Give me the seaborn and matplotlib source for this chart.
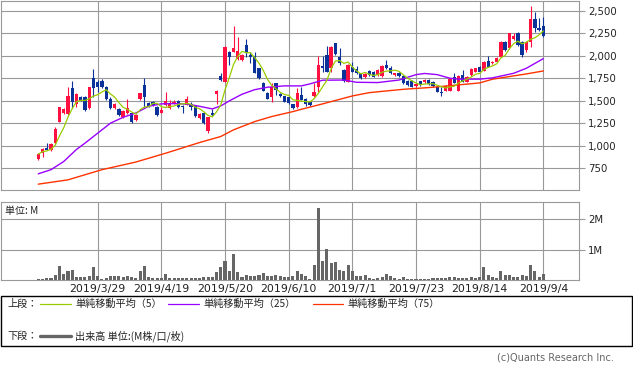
import matplotlib
matplotlib.use("Agg")
import matplotlib.pyplot as plt
from matplotlib.patches import Rectangle
from matplotlib.lines import Line2D
from matplotlib.ticker import FuncFormatter
import seaborn as sns
import pandas as pd
import numpy as np

# ---------------- data ----------------
opens = [852, 918, 978, 956, 1030, 1267, 1363, 1355, 1644, 1467,
         1544, 1541, 1418, 1752, 1711, 1726, 1652, 1522, 1418, 1411,
         1326, 1363, 1363, 1289, 1518, 1678, 1474, 1493, 1430, 1370,
         1455, 1418, 1467, 1504, 1444, 1455, 1467, 1444, 1307, 1363,
         1170, 1370, 1578, 1778, 1715, 2041, 2048, 1967, 1956, 2122,
         2011, 2000, 1863, 1704, 1592, 1548, 1696, 1578, 1555, 1541,
         1463, 1430, 1567, 1518, 1493, 1555, 1652, 1889, 2011, 1863,
         2141, 1993, 1844, 1715, 1881, 1855, 1807, 1763, 1833, 1826,
         1789, 1778, 1900, 1863, 1789, 1815, 1778, 1722, 1722, 1667,
         1718, 1715, 1733, 1715, 1652, 1604, 1615, 1615, 1770, 1615,
         1789, 1715, 1789, 1826, 1881, 1837, 1944, 1918, 1937, 1993,
         2159, 2085, 2185, 2259, 2159, 2067, 2159, 2407, 2307, 2333]
highs = [926, 974, 1030, 1037, 1215, 1437, 1420, 1652, 1726, 1585,
         1556, 1550, 1660, 1855, 1730, 1740, 1667, 1548, 1474, 1420,
         1400, 1518, 1365, 1355, 1592, 1752, 1485, 1500, 1440, 1437,
         1604, 1511, 1511, 1511, 1450, 1555, 1493, 1450, 1365, 1370,
         1325, 1407, 1622, 1815, 2110, 2050, 2333, 2207, 2020, 2185,
         2048, 2048, 1870, 1710, 1600, 1696, 1704, 1585, 1560, 1548,
         1470, 1640, 1652, 1530, 1500, 1696, 2000, 2000, 2111, 2110,
         2148, 2085, 1850, 1910, 1937, 1889, 1815, 1810, 1840, 1835,
         1850, 1895, 1956, 1889, 1815, 1822, 1785, 1730, 1730, 1696,
         1725, 1740, 1740, 1722, 1660, 1659, 1678, 1752, 1807, 1785,
         1844, 1778, 1863, 1870, 1889, 1945, 2004, 1945, 1990, 2167,
         2170, 2259, 2259, 2267, 2167, 2167, 2555, 2493, 2418, 2437]
lows = [841, 881, 952, 948, 1022, 1260, 1350, 1345, 1426, 1437,
        1495, 1385, 1410, 1548, 1600, 1640, 1515, 1415, 1410, 1330,
        1315, 1355, 1252, 1280, 1510, 1437, 1430, 1440, 1335, 1360,
        1445, 1410, 1460, 1418, 1370, 1450, 1400, 1325, 1300, 1245,
        1148, 1333, 1467, 1725, 1705, 1900, 2040, 1960, 1945, 1993,
        1918, 1810, 1745, 1610, 1520, 1492, 1567, 1548, 1485, 1467,
        1410, 1425, 1505, 1444, 1448, 1548, 1604, 1826, 1820, 1826,
        2015, 1900, 1710, 1707, 1820, 1800, 1745, 1755, 1780, 1765,
        1780, 1770, 1855, 1800, 1780, 1770, 1690, 1670, 1652, 1660,
        1670, 1704, 1680, 1660, 1596, 1555, 1610, 1607, 1696, 1607,
        1707, 1707, 1781, 1820, 1818, 1830, 1875, 1910, 1930, 1985,
        2060, 2078, 2178, 2115, 1985, 2040, 2104, 2270, 2280, 2215]
closes = [907, 963, 959, 1022, 1185, 1430, 1407, 1555, 1492, 1574,
          1504, 1396, 1652, 1641, 1652, 1652, 1526, 1418, 1463, 1344,
          1389, 1418, 1270, 1344, 1585, 1541, 1437, 1455, 1344, 1400,
          1500, 1481, 1492, 1437, 1430, 1518, 1430, 1333, 1355, 1259,
          1318, 1344, 1615, 1733, 2104, 1993, 2085, 2059, 2011, 2030,
          1993, 1815, 1752, 1615, 1526, 1659, 1622, 1555, 1492, 1474,
          1418, 1592, 1511, 1467, 1455, 1596, 1896, 1870, 1826, 2104,
          2022, 1918, 1718, 1900, 1826, 1807, 1752, 1800, 1789, 1770,
          1844, 1889, 1863, 1807, 1807, 1778, 1696, 1678, 1659, 1689,
          1678, 1733, 1689, 1667, 1604, 1592, 1670, 1744, 1704, 1778,
          1715, 1770, 1855, 1863, 1826, 1937, 1881, 1937, 1981, 2159,
          2067, 2252, 2222, 2122, 2011, 2159, 2411, 2307, 2289, 2222]
volumes_m = [0.045, 0.04, 0.05, 0.05, 0.17, 0.45, 0.20, 0.28, 0.32, 0.10,
             0.09, 0.09, 0.12, 0.42, 0.14, 0.045, 0.07, 0.12, 0.14, 0.14,
             0.11, 0.13, 0.11, 0.075, 0.28, 0.45, 0.09, 0.05, 0.07, 0.08,
             0.21, 0.08, 0.05, 0.05, 0.05, 0.08, 0.05, 0.08, 0.06, 0.10,
             0.11, 0.11, 0.25, 0.42, 0.64, 0.31, 0.84, 0.27, 0.09, 0.16,
             0.13, 0.14, 0.17, 0.24, 0.14, 0.14, 0.17, 0.13, 0.09, 0.09,
             0.12, 0.30, 0.20, 0.12, 0.045, 0.48, 2.37, 0.61, 1.03, 0.56,
             0.59, 0.33, 0.31, 0.48, 0.28, 0.14, 0.14, 0.17, 0.075, 0.045,
             0.075, 0.11, 0.20, 0.12, 0.075, 0.03, 0.11, 0.045, 0.045, 0.045,
             0.045, 0.045, 0.045, 0.05, 0.075, 0.05, 0.075, 0.11, 0.11, 0.075,
             0.05, 0.05, 0.11, 0.075, 0.11, 0.42, 0.17, 0.11, 0.075, 0.28,
             0.17, 0.17, 0.11, 0.11, 0.17, 0.14, 0.48, 0.28, 0.11, 0.20]

# 25- and 75-day averages (day index, value)
ma25_day = [0, 3, 6, 9, 11, 14, 17, 20, 23, 26, 29, 32, 35, 38, 41, 43, 45, 48,
            51, 54, 58, 62, 64, 67, 72, 75, 80, 85, 89, 91, 94, 97, 99, 104,
            107, 112, 115, 119]
ma25_val = [689, 735, 826, 960, 1030, 1141, 1252, 1318, 1365, 1440, 1467, 1470,
            1465, 1440, 1411, 1444, 1500, 1574, 1625, 1652, 1667, 1667, 1689,
            1730, 1732, 1707, 1704, 1732, 1792, 1805, 1792, 1752, 1742, 1742,
            1756, 1807, 1863, 1970]
ma75_day = [0, 7, 15, 23, 30, 38, 43, 46, 51, 55, 60, 62, 67, 74, 78, 86, 92,
            99, 104, 107, 112, 115, 119]
ma75_val = [574, 622, 735, 820, 918, 1037, 1104, 1178, 1270, 1326, 1381, 1407,
            1467, 1555, 1592, 1629, 1648, 1678, 1700, 1741, 1778, 1800, 1833]

tick_days = [14, 29, 44, 59, 74, 89, 104, 119]
tick_labels = ["2019/3/29", "2019/4/19", "2019/5/20", "2019/6/10",
               "2019/7/1", "2019/7/23", "2019/8/14", "2019/9/4"]
price_ticks = [750, 1000, 1250, 1500, 1750, 2000, 2250, 2500]
vol_ticks = [1, 2]

# ---------------- styling ----------------
UP = "#FF1040"
DOWN = "#0A3299"
MA5_C = "#99CC00"
MA25_C = "#9900FF"
MA75_C = "#FF3300"
VOL_C = "#666666"
GRID = "#999999"
TXT = "#222222"

sns.set_theme(style="white")
plt.rcParams["font.family"] = ["DejaVu Sans", "Noto Sans CJK JP"]
JP = ["Noto Sans CJK JP", "DejaVu Sans"]

W, H = 633, 370
fig = plt.figure(figsize=(W / 100, H / 100), dpi=100)
fig.patch.set_facecolor("white")

def fx(px):
    return px / W

def fy(py):
    return 1 - py / H

ax = fig.add_axes([fx(1), fy(190), fx(578), 189 / H])
axv = fig.add_axes([fx(1), fy(280), fx(578), 78.3 / H])

df = pd.DataFrame({"day": np.arange(len(closes)), "open": opens, "high": highs,
                   "low": lows, "close": closes, "volume": volumes_m})
df["ma5"] = df["close"].rolling(5, min_periods=1).mean()
df["up"] = df["close"] >= df["open"]
df["color"] = np.where(df["up"], UP, DOWN)

XL = (-8.78, 127.4)

for a in (ax, axv):
    a.set_facecolor("white")
    for s in a.spines.values():
        s.set_color(GRID)
        s.set_linewidth(0.8)
    a.grid(True, color=GRID, linewidth=0.8)
    a.set_axisbelow(True)

# ---- price panel ----
ax.vlines(df["day"], df["low"], df["high"], colors=df["color"], linewidth=0.8, zorder=2)
body_h = (df["close"] - df["open"]).abs().clip(lower=4)
ax.bar(df["day"], body_h, bottom=df[["open", "close"]].min(axis=1), width=0.78,
       color=df["color"], linewidth=0, zorder=3)

sns.lineplot(x=ma75_day, y=ma75_val, ax=ax, color=MA75_C, linewidth=1.0, zorder=4)
sns.lineplot(x=ma25_day, y=ma25_val, ax=ax, color=MA25_C, linewidth=1.0, zorder=4)
sns.lineplot(data=df, x="day", y="ma5", ax=ax, color=MA5_C, linewidth=0.9, zorder=5)

ax.set_xlim(*XL)
ax.set_ylim(509, 2611)
ax.set_xticks(tick_days)
ax.set_xticklabels([])
ax.tick_params(axis="x", length=0)
ax.set_yticks(price_ticks)
ax.yaxis.tick_right()
ax.yaxis.set_major_formatter(FuncFormatter(lambda v, p: f"{int(v):,}"))
ax.tick_params(axis="y", length=4.3, width=0.8, color=GRID, pad=2.2,
               labelsize=7.3, labelcolor=TXT)
ax.set_xlabel("")
ax.set_ylabel("")

# ---- volume panel ----
sns.barplot(data=df, x="day", y="volume", ax=axv, native_scale=True,
            color=VOL_C, width=0.72, errorbar=None, saturation=1, zorder=3,
            linewidth=0, antialiased=False)
axv.set_xlim(*XL)
axv.set_ylim(0, 2.57)
axv.set_xticks(tick_days)
axv.set_xticklabels(tick_labels)
axv.tick_params(axis="x", length=0, pad=2.6, labelsize=7.9, labelcolor=TXT)
axv.set_yticks(vol_ticks)
axv.set_yticklabels([f"{v}M" for v in vol_ticks])
axv.yaxis.tick_right()
axv.tick_params(axis="y", length=4.3, width=0.8, color=GRID, pad=2.2,
                labelsize=7.3, labelcolor=TXT)
axv.set_xlabel("")
axv.set_ylabel("")
axv.text(4 / 578, 0.885, "単位: M", transform=axv.transAxes,
         fontsize=7.2, family=JP, va="center", ha="left", color=TXT)

# ---- legend box ----
fig.patches.append(Rectangle((fx(0.6), fy(346)), fx(631.6), (346 - 295.7) / H,
                             transform=fig.transFigure, fill=False,
                             edgecolor="black", linewidth=1.0))
y1, y2 = 304, 336
LS = 7.3
fig.text(fx(7), fy(y1), "上段：", fontsize=LS, family=JP, va="center", color=TXT)
fig.text(fx(7), fy(y2), "下段：", fontsize=LS, family=JP, va="center", color=TXT)
legend_items = [(40, 71, 75, MA5_C, "単純移動平均（5）"),
                (168, 199, 203, MA25_C, "単純移動平均（25）"),
                (313, 343, 347, MA75_C, "単純移動平均（75）")]
for x0, x1, xt, c, lab in legend_items:
    fig.lines.append(Line2D([fx(x0), fx(x1)], [fy(y1), fy(y1)], color=c,
                            linewidth=0.9, transform=fig.transFigure))
    fig.text(fx(xt), fy(y1), lab, fontsize=LS, family=JP, va="center", color=TXT)
fig.lines.append(Line2D([fx(40), fx(71)], [fy(y2), fy(y2)], color=VOL_C,
                        linewidth=2.4, transform=fig.transFigure))
fig.text(fx(75), fy(y2), "出来高 単位:(M株/口/枚)", fontsize=LS, family=JP,
         va="center", color=TXT)

fig.text(fx(614), fy(357), "(c)Quants Research Inc.", fontsize=7.0, ha="right",
         va="center", color="#666666")

fig.savefig("out.png", dpi=100, facecolor="white")
